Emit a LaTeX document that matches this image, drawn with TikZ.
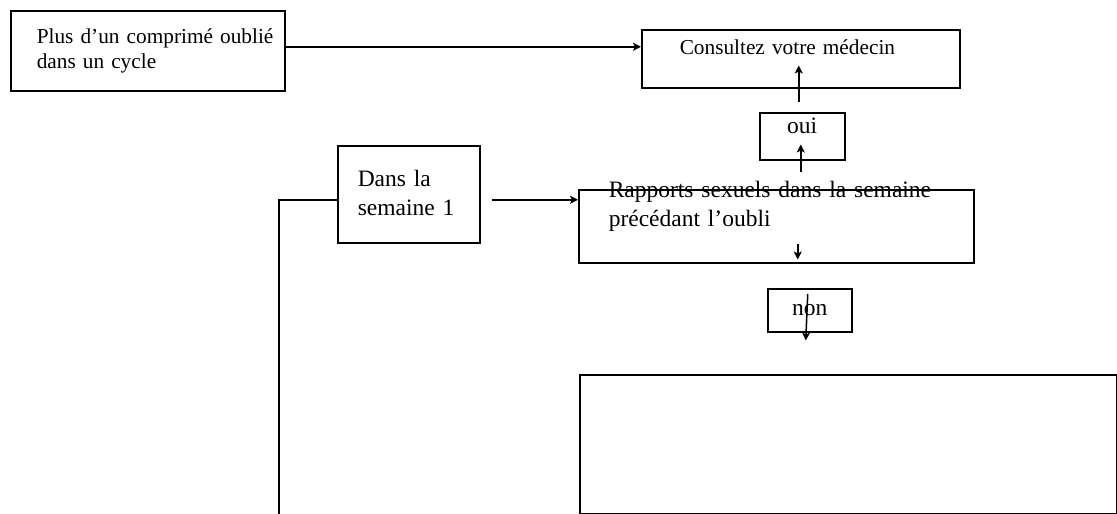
\documentclass[tikz,border=0pt]{standalone}
\usepackage{fontspec}
\setmainfont{Liberation Serif}
\usetikzlibrary{arrows.meta}
\begin{document}
\begin{tikzpicture}[x=1pt,y=-1pt,
  box/.style={draw, line width=1.5pt, rectangle, inner ysep=0pt, align=left, anchor=north west},
  smallfont/.style={font=\fontsize{21.3}{25}\selectfont},
  bigfont/.style={font=\fontsize{23.5}{29}\selectfont},
  arr/.style={line width=1.5pt, -{Stealth[length=8pt,width=8pt,inset=2pt]}},
  conn/.style={line width=1.5pt}]
\useasboundingbox (0,0) rectangle (1117,514);
% boxes
\node[box, smallfont, inner xsep=26pt, text width=222pt, text height=33pt, text depth=47pt] (b1) at (10,10)
  {\mbox{Plus d’un comprimé oublié}\\dans un cycle};
\node[box, smallfont, inner xsep=38pt, text width=242pt, text height=25pt, text depth=33pt] (cons) at (641,29)
  {Consultez votre médecin};
\node[box, bigfont, inner xsep=0pt, align=center, text width=85pt, text height=21pt, text depth=26pt] (oui) at (759,112)
  {oui};
\node[box, bigfont, inner xsep=20pt, text width=102pt, text height=41pt, text depth=56pt] (dans) at (337,145)
  {Dans la\\semaine 1};
\node[box, bigfont, inner xsep=30pt, text width=335pt, text height=8pt, text depth=65pt] (rap) at (578,189)
  {Rapports sexuels dans la semaine\\précédant l’oubli};
\node[box, bigfont, inner xsep=0pt, align=center, text width=84pt, text height=27pt, text depth=16pt] (non) at (767,288)
  {non};
\node[box, inner xsep=0pt, minimum width=537pt, minimum height=139pt] (big) at (579,374) {};
\coordinate (lb) at (279,514);
% connectors
\draw[arr] ([yshift=4pt]b1.east) -- ([yshift=12pt]cons.west);
\draw[arr] ([xshift=24.5pt,yshift=17pt]rap.north) -- ([xshift=-1.5pt,yshift=16pt]oui.south);
\draw[arr] ([xshift=-3.5pt,yshift=10pt]oui.north) -- ([xshift=-2pt,yshift=23pt]cons.south);
\draw[arr] ([xshift=21.5pt,yshift=20pt]rap.south) -- ([xshift=21.5pt,yshift=4pt]rap.south);
\draw[arr] ([xshift=-2pt,yshift=-6pt]non.north) -- ([xshift=-4pt,yshift=-8pt]non.south);
\draw[arr] ([xshift=11pt,yshift=-5.5pt]dans.east) -- ([yshift=26.5pt]rap.west);
\draw[conn] ([yshift=-5.5pt]dans.west) -| (lb);
\draw[line width=1pt] ([yshift=-22pt]big.north east) -- ++(2,0);
\draw[line width=1pt] ([yshift=-35pt]big.north east) -- ++(2,0);
\end{tikzpicture}
\end{document}
